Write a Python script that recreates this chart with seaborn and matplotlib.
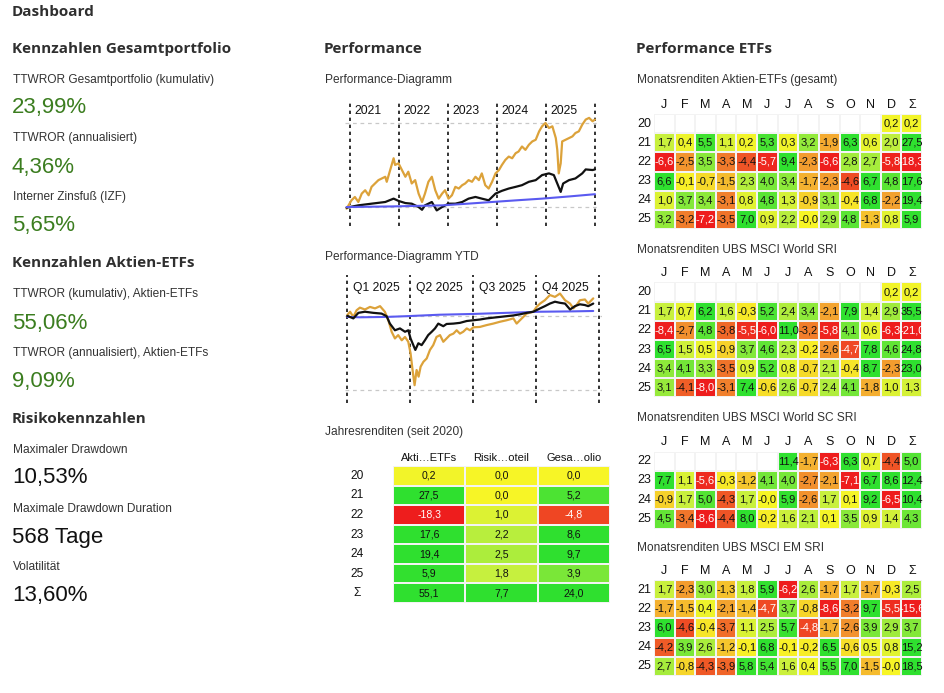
import matplotlib
matplotlib.use("Agg")
import matplotlib.pyplot as plt
from matplotlib.colors import LinearSegmentedColormap
import numpy as np
import seaborn as sns

# --- Daten -------------------------------------------------------------
nan = np.nan
months = ["J", "F", "M", "A", "M", "J", "J", "A", "S", "O", "N", "D", "Σ"]

# Performance-Diagramm (kumuliert, %)
perf_gold_x = [2020.93, 2021.03, 2021.10, 2021.17, 2021.24, 2021.31, 2021.38, 2021.44, 2021.51, 2021.58,
               2021.65, 2021.72, 2021.75, 2021.82, 2021.89, 2021.92, 2021.99, 2022.06, 2022.13, 2022.19,
               2022.26, 2022.33, 2022.40, 2022.47, 2022.53, 2022.60, 2022.67, 2022.74, 2022.81, 2022.88,
               2022.94, 2023.01, 2023.08, 2023.15, 2023.22, 2023.29, 2023.35, 2023.42, 2023.49, 2023.56,
               2023.63, 2023.69, 2023.76, 2023.83, 2023.90, 2023.97, 2024.04, 2024.10, 2024.17, 2024.24,
               2024.31, 2024.38, 2024.44, 2024.51, 2024.58, 2024.65, 2024.72, 2024.79, 2024.86, 2024.92,
               2024.99, 2025.06, 2025.13, 2025.20, 2025.23, 2025.26, 2025.30, 2025.33, 2025.40, 2025.47,
               2025.54, 2025.60, 2025.67, 2025.74, 2025.81, 2025.88, 2025.95, 2026.00]
perf_gold_y = [-1.1, 4.4, 6.6, 3.3, 8.8, 11.0, 7.7, 13.2, 15.4, 17.6,
               18.7, 19.8, 16.5, 24.2, 31.9, 27.5, 28.6, 24.2, 19.8, 23.1,
               15.4, 17.6, 8.8, 3.3, 8.8, 16.5, 19.8, 11.0, 5.5, 8.8,
               11.0, 5.5, 7.7, 13.2, 12.1, 14.3, 15.4, 17.6, 16.5, 19.8,
               17.6, 22.0, 14.3, 12.1, 16.5, 22.0, 24.2, 27.5, 30.8, 33.0,
               31.9, 35.2, 36.3, 39.6, 37.4, 40.7, 42.9, 44.0, 49.5, 52.8,
               55.0, 51.7, 52.8, 45.1, 37.4, 22.0, 28.6, 42.9, 44.0, 45.1,
               46.2, 48.4, 49.5, 53.9, 57.2, 58.3, 56.1, 57.2]
perf_black_x = [2020.93, 2021.17, 2021.44, 2021.72, 2021.89, 2021.99, 2022.13, 2022.26, 2022.40, 2022.47,
                2022.53, 2022.67, 2022.77, 2022.88, 2023.01, 2023.15, 2023.29, 2023.42, 2023.56, 2023.69,
                2023.83, 2023.97, 2024.10, 2024.24, 2024.38, 2024.51, 2024.65, 2024.79, 2024.92, 2025.06,
                2025.16, 2025.23, 2025.30, 2025.35, 2025.47, 2025.60, 2025.74, 2025.81, 2025.95, 2026.00]
perf_black_y = [-0.4, 1.1, 2.2, 3.3, 5.5, 4.0, 2.6, 2.2, 0.0, -1.8,
                1.1, 3.3, -2.2, 0.0, 2.2, 2.2, 3.3, 5.5, 6.6, 5.5,
                4.4, 8.8, 10.6, 12.1, 13.2, 14.3, 16.5, 17.6, 20.9, 22.0,
                20.9, 15.4, 9.9, 15.4, 17.6, 18.7, 22.0, 24.6, 24.2, 24.6]
perf_blue_x = [2020.93, 2021.85, 2022.88, 2023.40, 2023.90, 2024.40, 2024.92, 2025.50, 2026.00]
perf_blue_y = [0.0, 0.4, 1.1, 2.2, 3.3, 4.4, 5.5, 7.0, 8.4]
perf_years = [2021, 2022, 2023, 2024, 2025]

# Performance-Diagramm YTD (Jahresanteil, %)
ytd_gold_x = [0.000, 0.011, 0.024, 0.037, 0.050, 0.070, 0.090, 0.110, 0.130, 0.149,
              0.163, 0.176, 0.189, 0.202, 0.216, 0.229, 0.242, 0.251, 0.259, 0.267,
              0.275, 0.283, 0.291, 0.302, 0.315, 0.328, 0.341, 0.354, 0.368, 0.381,
              0.394, 0.407, 0.421, 0.434, 0.447, 0.460, 0.474, 0.487, 0.500, 0.526,
              0.553, 0.579, 0.606, 0.632, 0.659, 0.672, 0.685, 0.712, 0.738, 0.751,
              0.765, 0.784, 0.804, 0.824, 0.844, 0.864, 0.884, 0.897, 0.910, 0.923,
              0.943, 0.956, 0.976]
ytd_gold_y = [0.2, 1.1, -0.3, 1.5, 2.2, 1.7, 2.4, 2.0, 2.6, 1.1,
              -1.2, -4.3, -6.1, -5.2, -6.6, -5.7, -7.0, -10.1, -14.6, -18.7,
              -14.6, -16.4, -13.7, -12.4, -11.5, -9.2, -7.9, -5.7, -5.2, -7.0,
              -6.1, -5.2, -4.8, -3.9, -4.8, -4.3, -3.4, -3.9, -3.1, -3.0,
              -2.5, -2.1, -1.6, -1.2, -0.7, -2.1, -1.2, 0.6, 1.1, 2.4,
              3.3, 4.2, 5.6, 5.1, 6.0, 4.2, 3.3, 2.0, 2.9, 4.2,
              4.4, 3.3, 4.7]
ytd_black_x = [0.000, 0.024, 0.044, 0.070, 0.103, 0.136, 0.156, 0.169, 0.189, 0.209,
               0.229, 0.242, 0.251, 0.262, 0.270, 0.282, 0.295, 0.308, 0.321, 0.335,
               0.348, 0.361, 0.381, 0.394, 0.421, 0.447, 0.474, 0.500, 0.526, 0.553,
               0.579, 0.606, 0.632, 0.659, 0.685, 0.712, 0.738, 0.765, 0.784, 0.804,
               0.824, 0.844, 0.864, 0.884, 0.903, 0.923, 0.943, 0.956, 0.976]
ytd_black_y = [0.0, -0.7, 0.8, 1.1, 0.8, 0.6, -0.1, -2.1, -3.9, -3.4,
               -4.3, -3.9, -6.1, -7.9, -9.2, -7.4, -7.9, -6.6, -5.2, -4.3,
               -3.4, -2.1, -2.8, -2.2, -2.1, -1.9, -1.4, -1.2, -1.0, -0.7,
               -0.5, -0.3, -0.1, 0.1, 0.4, 0.8, 1.1, 2.0, 2.6, 3.3,
               3.8, 3.5, 3.3, 1.7, 2.6, 3.1, 2.9, 2.6, 3.3]
ytd_blue_x = [0.000, 0.050, 0.155, 0.235, 0.368, 0.500, 0.632, 0.765, 0.897, 0.976]
ytd_blue_y = [-0.3, -0.4, -0.3, -0.1, 0.3, 0.5, 0.8, 1.1, 1.2, 1.3]
quarters = ["Q1 2025", "Q2 2025", "Q3 2025", "Q4 2025"]

# Jahresrenditen (seit 2020)
jahr_rows = ["20", "21", "22", "23", "24", "25", "Σ"]
jahr_cols = ["Akti…ETFs", "Risik…oteil", "Gesa…olio"]
jahr_aktien = [0.2, 27.5, -18.3, 17.6, 19.4, 5.9, 55.1]
jahr_risikoarm = [0.0, 0.0, 1.0, 2.2, 2.5, 1.8, 7.7]
jahr_gesamt = [0.0, 5.2, -4.8, 8.6, 9.7, 3.9, 24.0]

# Monatsrenditen
etf_gesamt_rows = ["20", "21", "22", "23", "24", "25"]
etf_gesamt = [
    [nan, nan, nan, nan, nan, nan, nan, nan, nan, nan, nan, 0.2, 0.2],
    [1.7, 0.4, 5.5, 1.1, 0.2, 5.3, 0.3, 3.2, -1.9, 6.3, 0.6, 2.0, 27.5],
    [-6.6, -2.5, 3.5, -3.3, -4.4, -5.7, 9.4, -2.3, -6.6, 2.8, 2.7, -5.8, -18.3],
    [6.6, -0.1, -0.7, -1.5, 2.3, 4.0, 3.4, -1.7, -2.3, -4.6, 6.7, 4.8, 17.6],
    [1.0, 3.7, 3.4, -3.1, 0.8, 4.8, 1.3, -0.9, 3.1, -0.4, 6.8, -2.2, 19.4],
    [3.2, -3.2, -7.2, -3.5, 7.0, 0.9, 2.2, -0.0, 2.9, 4.8, -1.3, 0.8, 5.9],
]
world_rows = ["20", "21", "22", "23", "24", "25"]
world_sri = [
    [nan, nan, nan, nan, nan, nan, nan, nan, nan, nan, nan, 0.2, 0.2],
    [1.7, 0.7, 6.2, 1.6, -0.3, 5.2, 2.4, 3.4, -2.1, 7.9, 1.4, 2.9, 35.5],
    [-8.4, -2.7, 4.8, -3.8, -5.5, -6.0, 11.0, -3.2, -5.8, 4.1, 0.6, -6.3, -21.0],
    [6.5, 1.5, 0.5, -0.9, 3.7, 4.6, 2.3, -0.2, -2.6, -4.7, 7.8, 4.6, 24.8],
    [3.4, 4.1, 3.3, -3.5, 0.9, 5.2, 0.8, -0.7, 2.1, -0.4, 8.7, -2.3, 23.0],
    [3.1, -4.1, -8.0, -3.1, 7.4, -0.6, 2.6, -0.7, 2.4, 4.1, -1.8, 1.0, 1.3],
]
sc_rows = ["22", "23", "24", "25"]
world_sc_sri = [
    [nan, nan, nan, nan, nan, nan, 11.4, -1.7, -6.3, 6.3, 0.7, -4.4, 5.0],
    [7.7, 1.1, -5.6, -0.3, -1.2, 4.1, 4.0, -2.7, -2.1, -7.1, 6.7, 8.6, 12.4],
    [-0.9, 1.7, 5.0, -4.3, 1.7, -0.0, 5.9, -2.6, 1.7, 0.1, 9.2, -6.5, 10.4],
    [4.5, -3.4, -8.6, -4.4, 8.0, -0.2, 1.6, 2.1, 0.1, 3.5, 0.9, 1.4, 4.3],
]
em_rows = ["21", "22", "23", "24", "25"]
em_sri = [
    [1.7, -2.3, 3.0, -1.3, 1.8, 5.9, -6.2, 2.6, -1.7, 1.7, -1.7, -0.3, 2.5],
    [-1.7, -1.5, 0.4, -2.1, -1.4, -4.7, 3.7, -0.8, -8.6, -3.2, 9.7, -5.5, -15.6],
    [6.0, -4.6, -0.4, -3.7, 1.1, 2.5, 5.7, -4.8, -1.7, -2.6, 3.9, 2.9, 3.7],
    [-4.2, 3.9, 2.6, -1.2, -0.1, 6.8, -0.1, -0.2, 6.5, -0.6, 0.5, 0.8, 15.2],
    [2.7, -0.8, -4.3, -3.9, 5.8, 5.4, 1.6, 0.4, 5.5, 7.0, -1.5, -0.0, 18.5],
]

# --- Stil --------------------------------------------------------------
sns.set_theme(style="white")
plt.rcParams["font.family"] = ["Liberation Sans", "DejaVu Sans"]

W, H = 945, 693
GREEN = "#3b7d1f"
HEAD = "#2f2f2f"
SUB = "#333333"
GOLD = "#dca23a"
BLUE = "#5a5af0"

cmap = LinearSegmentedColormap.from_list(
    "rg", [(0.0, "#ee1d1d"), (0.2, "#f0702a"), (0.35, "#f4ae30"), (0.5, "#f8f526"),
           (0.65, "#c6f03e"), (0.8, "#86e83a"), (1.0, "#2fe02f")])

fig = plt.figure(figsize=(W / 100, H / 100), dpi=100)
fig.patch.set_facecolor("white")


def txt(x, y, s, **kw):
    # Pixelkoordinaten (von oben gemessen)
    fig.text(x / W, 1 - y / H, s, va="center", ha="left", **kw)


def add_ax(x0, y0, x1, y1):
    return fig.add_axes([x0 / W, 1 - y1 / H, (x1 - x0) / W, (y1 - y0) / H])


def fmt(v):
    return f"{v:.1f}".replace(".", ",")


def head(x, y, s):
    txt(x, y, s, fontsize=11, fontweight="bold", color=HEAD, family=["Open Sans", "DejaVu Sans"])


def sub(x, y, s):
    txt(x, y, s, fontsize=8.6, color=SUB)


# --- linke Spalte ------------------------------------------------------
head(12, 12, "Dashboard")
head(12, 49, "Kennzahlen Gesamtportfolio")
sub(13, 80, "TTWROR Gesamtportfolio (kumulativ)")
txt(12, 108, "23,99%", fontsize=16, color=GREEN)
sub(13, 138, "TTWROR (annualisiert)")
txt(12, 167, "4,36%", fontsize=16, color=GREEN)
sub(13, 197, "Interner Zinsfuß (IZF)")
txt(12, 226, "5,65%", fontsize=16, color=GREEN)
head(12, 263, "Kennzahlen Aktien-ETFs")
sub(13, 294, "TTWROR (kumulativ), Aktien-ETFs")
txt(12, 323, "55,06%", fontsize=16, color=GREEN)
sub(13, 353, "TTWROR (annualisiert), Aktien-ETFs")
txt(12, 381, "9,09%", fontsize=16, color=GREEN)
head(12, 419, "Risikokennzahlen")
sub(13, 450, "Maximaler Drawdown")
txt(12, 478, "10,53%", fontsize=16, color="#111111")
sub(13, 509, "Maximale Drawdown Duration")
txt(12, 537, "568 Tage", fontsize=16, color="#111111")
sub(13, 567, "Volatilität")
txt(12, 596, "13,60%", fontsize=16, color="#111111")

# --- mittlere Spalte ---------------------------------------------------
head(324, 49, "Performance")
sub(325, 80, "Performance-Diagramm")

ax1 = add_ax(345, 100, 600, 226)
ax1.axhline(0, color="#c8c8c8", lw=0.9, ls=(0, (3, 3)))
ax1.axhline(55, color="#c8c8c8", lw=0.9, ls=(0, (3, 3)))
for yr in perf_years + [2026]:
    ax1.axvline(yr, color="#111111", lw=1.2, ls=(0, (2, 2.2)))
for yr in perf_years:
    ax1.text(yr + 0.09, 62.5, str(yr), fontsize=8.7, va="center", ha="left", color="#111111")
sns.lineplot(x=perf_gold_x, y=perf_gold_y, ax=ax1, color=GOLD, lw=1.6)
sns.lineplot(x=perf_black_x, y=perf_black_y, ax=ax1, color="#111111", lw=1.6)
sns.lineplot(x=perf_blue_x, y=perf_blue_y, ax=ax1, color=BLUE, lw=1.5)
ax1.set_xlim(2020.898, 2026.102)
ax1.set_ylim(-12.4, 70)
ax1.set_axis_off()

sub(325, 257, "Performance-Diagramm YTD")
ax2 = add_ax(345, 275, 602, 403)
ax2.axhline(0, color="#c8c8c8", lw=0.9, ls=(0, (3, 3)))
ax2.axhline(-20, color="#c8c8c8", lw=0.9, ls=(0, (3, 3)))
for i in range(5):
    ax2.axvline(i * 0.25, color="#111111", lw=1.2, ls=(0, (2, 2.2)))
for i, q in enumerate(quarters):
    ax2.text(i * 0.25 + 0.022, 7.6, q, fontsize=8.7, va="center", ha="left", color="#111111")
sns.lineplot(x=ytd_gold_x, y=ytd_gold_y, ax=ax2, color=GOLD, lw=1.6)
sns.lineplot(x=ytd_blue_x, y=ytd_blue_y, ax=ax2, color=BLUE, lw=1.5)
sns.lineplot(x=ytd_black_x, y=ytd_black_y, ax=ax2, color="#111111", lw=1.6)
ax2.set_xlim(-0.0091, 1.0107)
ax2.set_ylim(-23.5, 11)
ax2.set_axis_off()


def grid(box, values, rows, cols, fs=8.0, head_fs=9, row_fs=9, row_pad=2.0, row_ha="right"):
    ax = add_ax(*box)
    data = np.array(values, dtype=float)
    labels = np.array([["" if np.isnan(v) else fmt(v) for v in r] for r in data])
    sns.heatmap(data, ax=ax, cmap=cmap, vmin=-6, vmax=6, cbar=False,
                annot=labels, fmt="", linewidths=1.2, linecolor="#f3f3f3",
                xticklabels=cols, yticklabels=rows,
                annot_kws={"fontsize": fs, "color": "#111111"})
    for t in ax.texts:
        v = float(t.get_text().replace(",", "."))
        t.set_color("white" if v < -4.65 else "#111111")
    ax.xaxis.tick_top()
    ax.tick_params(axis="x", length=0, pad=2.5, labelsize=head_fs, colors="#111111")
    ax.tick_params(axis="y", length=0, pad=row_pad, labelsize=row_fs, colors="#111111")
    ax.set_yticklabels(rows, rotation=0, ha=row_ha)
    return ax


sub(325, 432, "Jahresrenditen (seit 2020)")
jahr = np.array([jahr_aktien, jahr_risikoarm, jahr_gesamt]).T
grid((393, 466, 610, 603), jahr, jahr_rows, jahr_cols, fs=7.6, head_fs=8, row_fs=8.6,
     row_pad=26, row_ha="center")

# --- rechte Spalte -----------------------------------------------------
head(636, 49, "Performance ETFs")
sub(637, 80, "Monatsrenditen Aktien-ETFs (gesamt)")
grid((654, 114, 922, 229), etf_gesamt, etf_gesamt_rows, months)
sub(637, 250, "Monatsrenditen UBS MSCI World SRI")
grid((654, 282.5, 922, 397.5), world_sri, world_rows, months)
sub(637, 418, "Monatsrenditen UBS MSCI World SC SRI")
grid((654, 451.5, 922, 528.5), world_sc_sri, sc_rows, months)
sub(637, 548, "Monatsrenditen UBS MSCI EM SRI")
grid((654, 580, 922, 676), em_sri, em_rows, months)

fig.savefig("out.png", dpi=100)
